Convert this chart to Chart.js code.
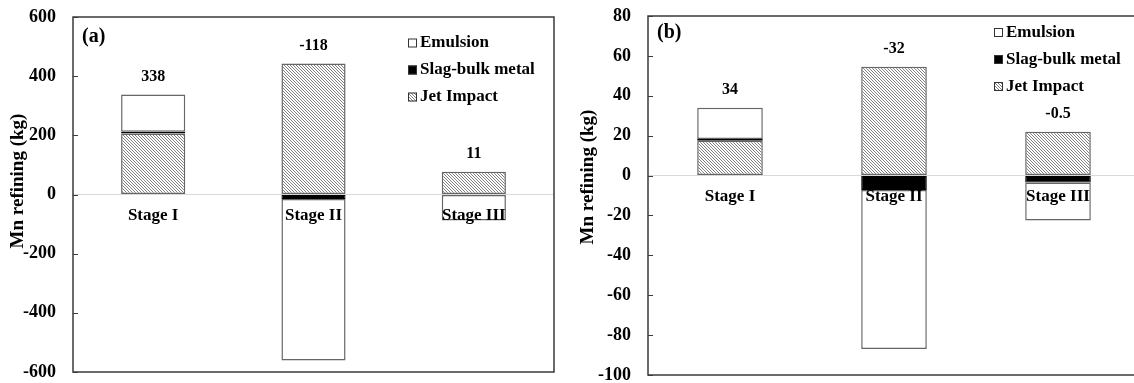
<!DOCTYPE html>
<html>
<head>
<meta charset="utf-8">
<script src="https://cdn.jsdelivr.net/npm/chart.js@4"></script>
<style>
  html, body { margin: 0; padding: 0; background: #fff; overflow: hidden; }
  #wrap { position: relative; width: 1134px; height: 383px; overflow: hidden; }
  #panelA { position: absolute; left: 0; top: 0; }
  #panelB { position: absolute; left: 567px; top: 0; }
</style>
</head>
<body>
<div id="wrap">
  <canvas id="panelA" width="567" height="383"></canvas>
  <canvas id="panelB" width="580" height="383"></canvas>
</div>
<script>
const stages = ['Stage I', 'Stage II', 'Stage III'];

// panel (a)
const jetA = [206, 443, 77];
const slagA = [6, -15, -2];
const emulsionA = [126, -546, -86];
const totalsA = ['338', '-118', '11'];

// panel (b)
const jetB = [17.5, 54.6, 22];
const slagB = [0.8, -7.2, -3.5];
const emulsionB = [15.7, -79.8, -19];
const totalsB = ['34', '-32', '-0.5'];

const SERIF = '"Liberation Serif", "Times New Roman", serif';

function hatch() {
  const c = document.createElement('canvas');
  c.width = 3; c.height = 3;
  const g = c.getContext('2d');
  g.fillStyle = '#fff';
  g.fillRect(0, 0, 3, 3);
  g.strokeStyle = '#808080';
  g.lineWidth = 1;
  g.beginPath();
  g.moveTo(-1, -1); g.lineTo(4, 4);
  g.moveTo(2, -1); g.lineTo(4, 1);
  g.moveTo(-1, 2); g.lineTo(1, 4);
  g.stroke();
  return g.createPattern(c, 'repeat');
}

// frame, labels, legend and titles drawn on top of the bars
const decor = {
  id: 'decor',
  afterDatasetsDraw(chart, args, o) {
    const ctx = chart.ctx, a = chart.chartArea;
    const x = chart.scales.x, y = chart.scales.y;
    ctx.save();

    ctx.strokeStyle = '#3a3a3a';
    ctx.lineWidth = 1.5;
    ctx.strokeRect(a.left, a.top, a.right - a.left, a.bottom - a.top);
    ctx.lineWidth = 1;
    y.ticks.forEach(t => {
      const py = Math.round(y.getPixelForValue(t.value)) + 0.5;
      ctx.beginPath();
      ctx.moveTo(a.left, py);
      ctx.lineTo(a.left + 5, py);
      ctx.stroke();
    });

    ctx.fillStyle = '#000';
    ctx.textAlign = 'center';
    ctx.textBaseline = 'middle';

    // totals above each bar
    ctx.font = 'bold 16px ' + SERIF;
    o.totals.forEach((txt, i) => {
      let pos = 0;
      chart.data.datasets.forEach(d => { if (d.data[i] > 0) pos += d.data[i]; });
      ctx.fillText(txt, x.getPixelForValue(i), y.getPixelForValue(pos) - 18);
    });

    // stage names next to the zero line
    ctx.font = 'bold 17px ' + SERIF;
    chart.data.labels.forEach((l, i) => {
      ctx.fillText(l, x.getPixelForValue(i), y.getPixelForValue(0) + 21);
    });

    // legend inside the plot
    ctx.font = 'bold 17px ' + SERIF;
    ctx.textAlign = 'left';
    const items = chart.data.datasets.slice().reverse();
    items.forEach((d, k) => {
      const sx = a.right - 146;
      const sy = a.top + o.legendTop + k * 27;
      ctx.fillStyle = d.backgroundColor;
      ctx.fillRect(sx, sy - 4.5, 9, 9);
      ctx.strokeStyle = '#333';
      ctx.strokeRect(sx + 0.5, sy - 4, 8, 8);
      ctx.fillStyle = '#000';
      ctx.fillText(d.label, sx + 12, sy);
    });

    // panel tag
    ctx.font = 'bold 20px ' + SERIF;
    ctx.fillText(o.tag, a.left + 9, a.top + o.tagTop);

    // y axis title
    ctx.font = 'bold 19px ' + SERIF;
    ctx.textAlign = 'center';
    ctx.translate(o.titleX, o.titleY);
    ctx.rotate(-Math.PI / 2);
    ctx.fillText('Mn refining (kg)', 0, 0);

    ctx.restore();
  }
};

function makePanel(id, jet, slag, emulsion, totals, yMin, yMax, step, axisW, pad, extra) {
  return new Chart(document.getElementById(id), {
    type: 'bar',
    data: {
      labels: stages,
      datasets: [
        { label: 'Jet Impact', data: jet, backgroundColor: hatch(), borderColor: '#666', borderWidth: 1.5, borderSkipped: false },
        { label: 'Slag-bulk metal', data: slag, backgroundColor: '#000', borderColor: '#000', borderWidth: 1, borderSkipped: false },
        { label: 'Emulsion', data: emulsion, backgroundColor: '#fff', borderColor: '#666', borderWidth: 1.5, borderSkipped: false }
      ]
    },
    options: {
      responsive: false,
      animation: false,
      devicePixelRatio: 1,
      layout: { padding: pad },
      datasets: { bar: { barPercentage: 0.4, categoryPercentage: 1 } },
      scales: {
        x: { stacked: true, display: false },
        y: {
          stacked: true,
          min: yMin,
          max: yMax,
          afterFit: s => { s.width = axisW; s.paddingTop = 0; s.paddingBottom = 0; },
          border: { display: false },
          grid: {
            drawTicks: false,
            lineWidth: 1,
            color: c => c.tick && c.tick.value === 0 ? '#d9d9d9' : 'rgba(0,0,0,0)'
          },
          ticks: { stepSize: step, padding: 17, color: '#000', font: { family: SERIF, size: 18, weight: 'bold' } }
        }
      },
      plugins: {
        legend: { display: false },
        tooltip: { enabled: false },
        decor: Object.assign({ totals: totals }, extra)
      }
    },
    plugins: [decor]
  });
}

makePanel('panelA', jetA, slagA, emulsionA, totalsA, -600, 600, 200, 73,
  { top: 17, bottom: 11, right: 13, left: 0 },
  { tag: '(a)', tagTop: 20, legendTop: 26, titleX: 18, titleY: 181 });

makePanel('panelB', jetB, slagB, emulsionB, totalsB, -100, 80, 20, 81,
  { top: 16, bottom: 8, right: 7, left: 0 },
  { tag: '(b)', tagTop: 17, legendTop: 16.5, titleX: 21, titleY: 177 });
</script>
</body>
</html>
